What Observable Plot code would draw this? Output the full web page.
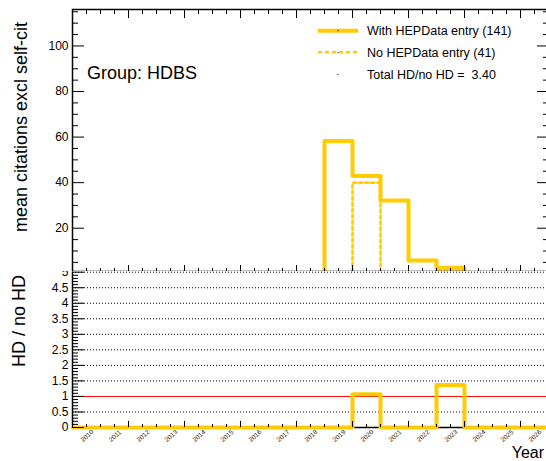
<!DOCTYPE html>
<html><head><meta charset="utf-8">
<script src="https://cdn.jsdelivr.net/npm/d3@7"></script>
<script src="https://cdn.jsdelivr.net/npm/@observablehq/plot@0.6"></script>
<style>
body{margin:0;background:#fff;}
#wrap{position:relative;width:546px;height:461px;overflow:hidden;background:#fff;}
#wrap svg{position:absolute;left:0;}
</style></head><body><div id="wrap"></div>
<script>
// ---- data ----
const years = [2010,2011,2012,2013,2014,2015,2016,2017,2018,2019,2020,2021,2022,2023,2024,2025,2026];
const withHD = [0,0,0,0,0,0,0,0,0,58.3,42.9,32.2,5.8,2.6,0,0,0];
const noHD   = [0,0,0,0,0,0,0,0,0,0,40.0,0,0,1.9,0,0,0];
const ratio  = [0,0,0,0,0,0,0,0,0,0,1.07,0,0,1.37,0,0,0];
const topYTicks = [20,40,60,80,100];
const botYTicks = [0,0.5,1,1.5,2,2.5,3,3.5,4,4.5,5];
const gridVals = [0.5,1.5,2,2.5,3,3.5,4,4.5,5];
const legendLabels = ["With HEPData entry (141)", "No HEPData entry (41)", "Total HD/no HD =  3.40"];
const groupLabel = "Group: HDBS";
const yTitleTop = "mean citations excl self-cit";
const yTitleBot = "HD / no HD";
const xTitle = "Year";

// ---- helpers ----
const gold = "#ffcc00";
const font = "'Liberation Sans', Arial, Helvetica, sans-serif";
function steps(vals){
  const pts = years.map((y,i)=>({x:y, v:vals[i]}));
  pts.push({x: years[years.length-1]+1, v: vals[vals.length-1]});
  return pts;
}
const xMajor = d3.range(2010, 2027.01, 2);
const xMinor = d3.range(2010.5, 2027, 0.5).filter(d => d % 2 !== 0);
const topYMinor = d3.range(5, 116, 5).filter(d => d % 20 !== 0);
const botYMinor = d3.range(0, 5.001, 0.1).map(d => +d.toFixed(1)).filter(d => Math.abs(d*2 - Math.round(d*2)) > 1e-6);
const blank = () => "";
const fmt = d => String(d);
const st = {fontFamily: font, background: "white", maxWidth: "none", overflow: "hidden", color: "black"};

const wrap = document.getElementById("wrap");

// ---- bottom panel (ratio) ----
const botPlot = Plot.plot({
  width: 548, height: 199,
  marginLeft: 72, marginRight: 0, marginTop: 9.7, marginBottom: 34,
  x: {domain: [2010, 2027], label: null},
  y: {domain: [0, 5], label: null},
  style: st,
  marks: [
    Plot.ruleY(gridVals, {stroke: "black", strokeWidth: 1, strokeDasharray: "1,2"}),
    Plot.ruleY([1], {stroke: "#ff0000", strokeWidth: 1}),
    Plot.ruleX([2010], {stroke: "black", strokeWidth: 1.5}),
    Plot.ruleY([0], {stroke: "black", strokeWidth: 1.5}),
    Plot.line(steps(ratio), {x: "x", y: "v", curve: "step-after", stroke: gold, strokeWidth: 4}),
    Plot.axisY(botYTicks, {anchor: "left", tickSize: 0, tickPadding: 4, fontSize: 12, tickFormat: fmt, label: null}),
    Plot.axisY(botYTicks, {anchor: "left", tickSize: -12, tickFormat: blank, label: null}),
    Plot.axisY(botYMinor, {anchor: "left", tickSize: -6, tickFormat: blank, label: null}),
    Plot.axisX(xMajor, {anchor: "bottom", tickSize: -6, tickFormat: blank, label: null}),
    Plot.axisX(xMinor, {anchor: "bottom", tickSize: -3, tickFormat: blank, label: null}),
    Plot.text(years, {x: d => d + 0.5, frameAnchor: "bottom", dy: 10, dx: 2, rotate: -42, fontSize: 6.5, fill: "#222", text: d => String(d)})
  ]
});
botPlot.style.top = "262px";
wrap.appendChild(botPlot);

// ---- top panel ----
const topPlot = Plot.plot({
  width: 548, height: 271,
  marginLeft: 72, marginRight: 0, marginTop: 9, marginBottom: 0,
  x: {domain: [2010, 2027], label: null},
  y: {domain: [1, 116], label: null},
  style: st,
  marks: [
    Plot.line(steps(withHD), {x: "x", y: "v", curve: "step-after", stroke: gold, strokeWidth: 4, clip: true}),
    Plot.line(steps(noHD), {x: "x", y: "v", curve: "step-after", stroke: gold, strokeWidth: 2.6, strokeDasharray: "3,3", clip: true}),
    Plot.frame({stroke: "black", strokeWidth: 1.5}),
    Plot.axisY(topYTicks, {anchor: "left", tickSize: 0, tickPadding: 4, fontSize: 12, tickFormat: fmt, label: null}),
    Plot.axisY(topYTicks, {anchor: "left", tickSize: -12, tickFormat: blank, label: null}),
    Plot.axisY(topYMinor, {anchor: "left", tickSize: -6, tickFormat: blank, label: null}),
    Plot.axisY(topYTicks, {anchor: "right", tickSize: -12, tickFormat: blank, label: null}),
    Plot.axisY(topYMinor, {anchor: "right", tickSize: -6, tickFormat: blank, label: null}),
    Plot.axisX(xMajor, {anchor: "top", tickSize: -8, tickFormat: blank, label: null}),
    Plot.axisX(xMinor, {anchor: "top", tickSize: -4, tickFormat: blank, label: null}),
    Plot.axisX(xMajor, {anchor: "bottom", tickSize: -6, tickFormat: blank, label: null}),
    Plot.axisX(xMinor, {anchor: "bottom", tickSize: -3, tickFormat: blank, label: null})
  ]
});
topPlot.style.top = "0px";
wrap.appendChild(topPlot);

// ---- overlay text & legend ----
const ov = d3.select(wrap).append("svg").attr("width", 546).attr("height", 461)
  .style("top", "0px").style("font-family", font);
ov.append("text").attr("transform", "translate(27,127) rotate(-90)").attr("text-anchor", "middle")
  .attr("font-size", 18).text(yTitleTop);
ov.append("text").attr("transform", "translate(25,321) rotate(-90)").attr("text-anchor", "middle")
  .attr("font-size", 18).text(yTitleBot);
ov.append("text").attr("x", 87).attr("y", 79).attr("font-size", 18).text(groupLabel);
ov.append("text").attr("x", 544).attr("y", 458).attr("text-anchor", "end").attr("font-size", 16).text(xTitle);

const lg = ov.append("g");
lg.append("line").attr("x1", 318).attr("x2", 358).attr("y1", 30.7).attr("y2", 30.7).attr("stroke", gold).attr("stroke-width", 4);
lg.append("circle").attr("cx", 338).attr("cy", 30.7).attr("r", 0.6).attr("fill", "black");
lg.append("line").attr("x1", 318).attr("x2", 358).attr("y1", 52.3).attr("y2", 52.3).attr("stroke", gold).attr("stroke-width", 2.6).attr("stroke-dasharray", "4,3");
lg.append("circle").attr("cx", 338).attr("cy", 52.3).attr("r", 0.6).attr("fill", "black");
lg.append("circle").attr("cx", 338).attr("cy", 74.3).attr("r", 0.6).attr("fill", "black");
const lys = [35, 57, 79];
legendLabels.forEach((t, i) => {
  lg.append("text").attr("x", 367).attr("y", lys[i]).attr("font-size", 12.5).style("white-space", "pre").attr("xml:space", "preserve").text(t);
});
</script></body></html>
